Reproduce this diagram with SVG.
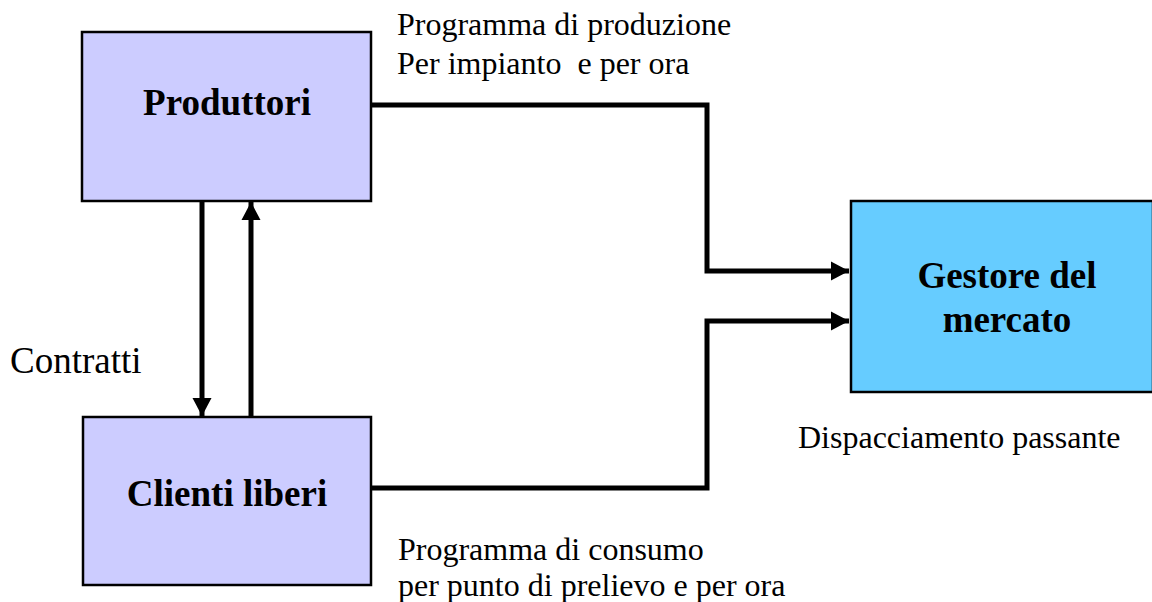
<svg xmlns="http://www.w3.org/2000/svg" width="1152" height="602" viewBox="0 0 1152 602">
<style>
.box{stroke:#000;stroke-width:2.5}
.title{font-family:"Liberation Serif","Times New Roman",serif;font-weight:bold;font-size:37px;fill:#000;text-anchor:middle}
.lbl{font-family:"Liberation Serif","Times New Roman",serif;font-size:32px;fill:#000;white-space:pre}
.big{font-family:"Liberation Serif","Times New Roman",serif;font-size:37px;fill:#000}
.conn{fill:none;stroke:#000;stroke-width:5;stroke-linejoin:miter}
</style>
<defs>
<marker id="arr" markerUnits="userSpaceOnUse" markerWidth="20" markerHeight="20" refX="18" refY="10" orient="auto">
<path d="M0,0.5 L18,10 L0,19.5 Z" fill="#000"/>
</marker>
</defs>
<rect width="1152" height="602" fill="#fff"/>
<g id="produttori">
<rect class="box" x="82" y="32" width="289" height="169" fill="#CCCCFF"/>
<text class="title" x="227" y="115">Produttori</text>
</g>
<g id="clienti">
<rect class="box" x="83" y="417" width="288" height="168" fill="#CCCCFF"/>
<text class="title" x="227" y="506">Clienti liberi</text>
</g>
<g id="gestore">
<rect class="box" x="851" y="201" width="302" height="191" fill="#66CCFF"/>
<text class="title" x="1007" y="288">Gestore del</text>
<text class="title" x="1007" y="332">mercato</text>
</g>
<g id="connectors">
<path class="conn" d="M371,105 H707 V271 H849" marker-end="url(#arr)"/>
<path class="conn" d="M371,488 H707 V321 H849" marker-end="url(#arr)"/>
<path class="conn" d="M202,201 V416" marker-end="url(#arr)"/>
<path class="conn" d="M251,417 V202" marker-end="url(#arr)"/>
</g>
<g id="labels">
<text class="lbl" x="397" y="35">Programma di produzione</text>
<text class="lbl" x="397" y="74" xml:space="preserve">Per impianto  e per ora</text>
<text class="lbl" x="398" y="560">Programma di consumo</text>
<text class="lbl" x="398" y="596">per punto di prelievo e per ora</text>
<text class="lbl" x="798" y="448">Dispacciamento passante</text>
<text class="big" x="10" y="373">Contratti</text>
</g>
</svg>
